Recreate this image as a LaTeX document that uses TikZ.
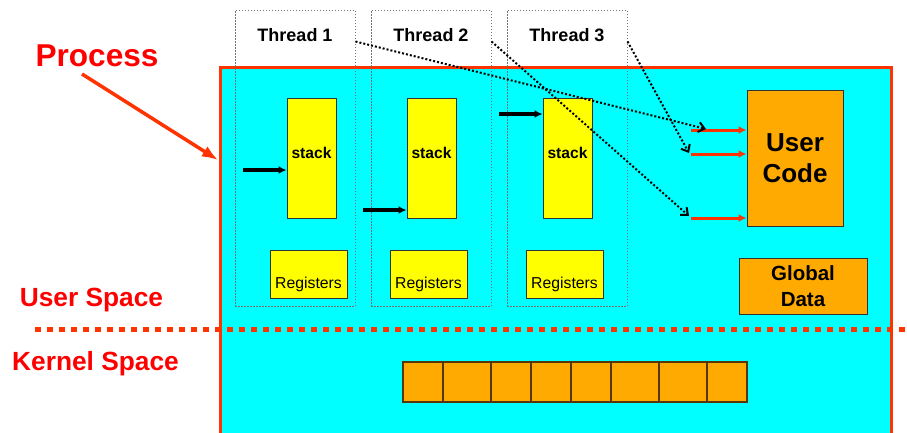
\documentclass[tikz,border=0pt]{standalone}
\usepackage{fontspec}
\setmainfont{Liberation Sans}
\usepackage{tikz}
\usetikzlibrary{arrows.meta,positioning,calc}

\definecolor{proccyan}{RGB}{0,255,255}
\definecolor{stackyellow}{RGB}{255,255,0}
\definecolor{codeorange}{RGB}{255,170,0}
\definecolor{procred}{RGB}{255,51,0}
\definecolor{labelred}{RGB}{255,0,0}
\definecolor{celledge}{RGB}{85,55,10}

\begin{document}
\begin{tikzpicture}[x=1pt,y=-1pt,>=Latex,
  procbox/.style={draw=procred,fill=proccyan,line width=3pt,minimum width=671pt,minimum height=420pt,inner sep=0pt},
  threadbox/.style={draw=black!55,line width=1pt,dash pattern=on 1.5pt off 1.5pt,minimum width=120pt,minimum height=296pt,inner sep=0pt},
  threadlabel/.style={font=\fontsize{18}{22}\selectfont\bfseries},
  stackbox/.style={draw=black!80,fill=stackyellow,line width=1pt,minimum width=49pt,minimum height=120pt,
    text depth=10pt,font=\fontsize{15.6}{19}\selectfont\bfseries},
  regbox/.style={draw=black!80,fill=stackyellow,line width=1pt,minimum width=77pt,minimum height=48pt,
    text height=31pt,text depth=3pt,inner sep=0pt,font=\fontsize{15.8}{19}\selectfont},
  codebox/.style={draw=black!80,fill=codeorange,line width=1pt,align=center,inner sep=0pt},
  redlabel/.style={text=labelred,font=\fontsize{26.3}{31}\selectfont\bfseries},
  stackarrow/.style={-{Latex[length=8pt,width=8pt]},line width=4pt,black},
  codearrow/.style={-{Latex[length=8pt,width=8pt]},line width=3pt,procred},
  callarrow/.style={-{Straight Barb[length=6pt,width=10pt]},line width=2pt,dash pattern=on 2pt off 2pt,black},
  procarrow/.style={-{Latex[length=16pt,width=12pt]},line width=3.5pt,procred},
  kernelline/.style={line width=5pt,procred,dash pattern=on 6pt off 6pt},
  cell/.style={draw=celledge,fill=codeorange,line width=1.5pt}]
\useasboundingbox (0,0) rectangle (907,432);
\clip (0,0) rectangle (907,432);

% process area
\node[procbox,anchor=north west] (proc) at (219,66) {};
\draw[kernelline] (35,329) -- (907,329);

% threads
\node[threadbox] (th1) at (295,158) {};
\node[threadbox] (th2) at (431,158) {};
\node[threadbox] (th3) at (567,158) {};
\node[threadlabel] (t1) at (295,35) {Thread 1};
\node[threadlabel] (t2) at (431,35) {Thread 2};
\node[threadlabel] (t3) at (567,35) {Thread 3};

\node[stackbox] (s1) at (311.5,158) {stack};
\node[stackbox] (s2) at (431.5,158) {stack};
\node[stackbox] (s3) at (567.5,158) {stack};
\node[regbox] (r1) at (308.5,274) {Registers};
\node[regbox] (r2) at (428.5,274) {Registers};
\node[regbox] (r3) at (564.5,274) {Registers};

\coordinate (in1) at (243,170);
\coordinate (in2) at (363,210);
\coordinate (in3) at (499,114);
\draw[stackarrow] (in1) -- (in1 -| s1.west);
\draw[stackarrow] (in2) -- (in2 -| s2.west);
\draw[stackarrow] (in3) -- (in3 -| s3.west);

% code and data
\node[codebox,minimum width=96pt,minimum height=136pt,font=\fontsize{26}{31}\selectfont\bfseries] (uc) at (795,158) {User\\Code};
\node[codebox,minimum width=128pt,minimum height=56pt,font=\fontsize{20.5}{26}\selectfont\bfseries] (gd) at (803,286) {Global\\Data};

\coordinate (c1) at (691,130);
\coordinate (c2) at (691,154);
\coordinate (c3) at (691,218);
\draw[codearrow] (c1) -- (c1 -| uc.west);
\draw[codearrow] (c2) -- (c2 -| uc.west);
\draw[codearrow] (c3) -- (c3 -| uc.west);

\coordinate (e1) at (706,129);
\coordinate (e2) at (689,153);
\coordinate (e3) at (689,216);
\draw[callarrow] ([yshift=-32pt]th1.north east) -- (e1);
\draw[callarrow] ([yshift=-32pt]th2.north east) -- (e3);
\draw[callarrow] ([yshift=-32pt]th3.north east) -- (e2);

% kernel
\foreach \xa/\xb in {403/443,443/491,491/531,531/571,571/611,611/659,659/707,707/747}
  \draw[cell] (\xa,362) rectangle (\xb,402);

% labels
\node[redlabel,font=\fontsize{31.6}{38}\selectfont\bfseries] (plabel) at (97,55.5) {Process};
\coordinate (pstart) at (82,74);
\coordinate (ptip) at (218,160);
\draw[procarrow] (pstart) -- (ptip);
\node[redlabel] (us) at (91.5,300) {User Space};
\node[redlabel] (ks) at (95.5,363.5) {Kernel Space};
\end{tikzpicture}
\end{document}
